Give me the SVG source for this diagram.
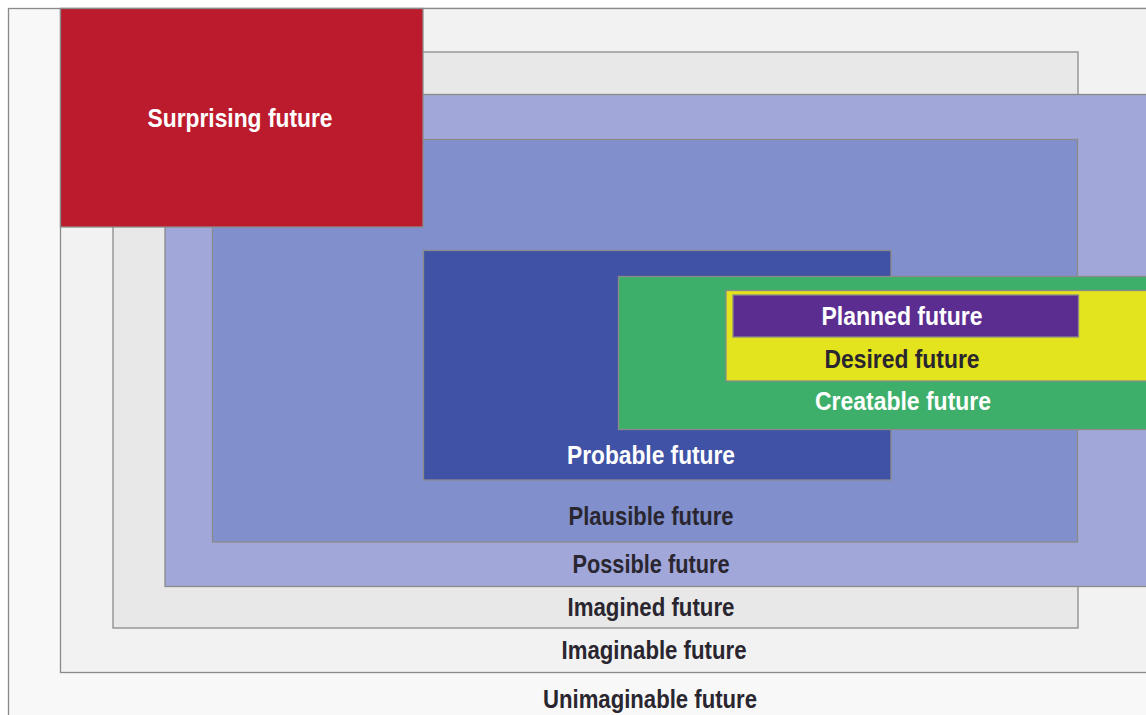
<svg xmlns="http://www.w3.org/2000/svg" width="1146" height="715" viewBox="0 0 1146 715">
<style>
  .box { stroke: #8a8a8a; stroke-width: 1.3; }
  .lbl { font-family: "Liberation Sans", Arial, Helvetica, sans-serif; font-weight: bold; font-size: 26px; text-anchor: middle; }
  .dark { fill: #2a2630; }
  .light { fill: #ffffff; }
</style>
<rect x="0" y="0" width="1146" height="715" fill="#ffffff"/>
<g id="unimaginable">
  <rect class="box" x="8.5" y="8.5" width="1160" height="730" fill="#f8f8f8"/>
  <text class="lbl dark" x="650" y="708" textLength="214" lengthAdjust="spacingAndGlyphs">Unimaginable future</text>
</g>
<g id="imaginable">
  <rect class="box" x="60.5" y="8.5" width="1110" height="664" fill="#f2f2f2"/>
  <text class="lbl dark" x="654" y="659" textLength="185" lengthAdjust="spacingAndGlyphs">Imaginable future</text>
</g>
<g id="imagined">
  <rect class="box" x="113" y="52" width="965" height="576" fill="#e8e8e8"/>
  <text class="lbl dark" x="651" y="616" textLength="167" lengthAdjust="spacingAndGlyphs">Imagined future</text>
</g>
<g id="possible">
  <rect class="box" x="165" y="94.5" width="1010" height="492" fill="#a1a7d8"/>
  <text class="lbl dark" x="651" y="573" textLength="157" lengthAdjust="spacingAndGlyphs">Possible future</text>
</g>
<g id="plausible">
  <rect class="box" x="212.5" y="139.5" width="865" height="402.5" fill="#8190cc"/>
  <text class="lbl dark" x="651" y="525" textLength="165" lengthAdjust="spacingAndGlyphs">Plausible future</text>
</g>
<g id="probable">
  <rect class="box" x="423.5" y="250.5" width="467.5" height="229.5" fill="#3f52a5"/>
  <text class="lbl light" x="651" y="464" textLength="168" lengthAdjust="spacingAndGlyphs">Probable future</text>
</g>
<g id="creatable">
  <rect class="box" x="618.5" y="276.5" width="560" height="153" fill="#3daf6a"/>
  <text class="lbl light" x="903" y="410" textLength="176" lengthAdjust="spacingAndGlyphs">Creatable future</text>
</g>
<g id="desired">
  <rect class="box" x="726" y="290.5" width="450" height="90.5" fill="#e3e31e"/>
  <text class="lbl dark" x="902" y="368" textLength="155" lengthAdjust="spacingAndGlyphs">Desired future</text>
</g>
<g id="planned">
  <rect class="box" x="733" y="295" width="345.5" height="42" fill="#5c2d91"/>
  <text class="lbl light" x="902" y="325" textLength="161" lengthAdjust="spacingAndGlyphs">Planned future</text>
</g>
<g id="surprising">
  <rect class="box" x="60.5" y="8.5" width="362.5" height="218.5" fill="#bc1b2d"/>
  <text class="lbl light" x="240" y="127" textLength="185" lengthAdjust="spacingAndGlyphs">Surprising future</text>
</g>
<g id="connectors"/>
</svg>
